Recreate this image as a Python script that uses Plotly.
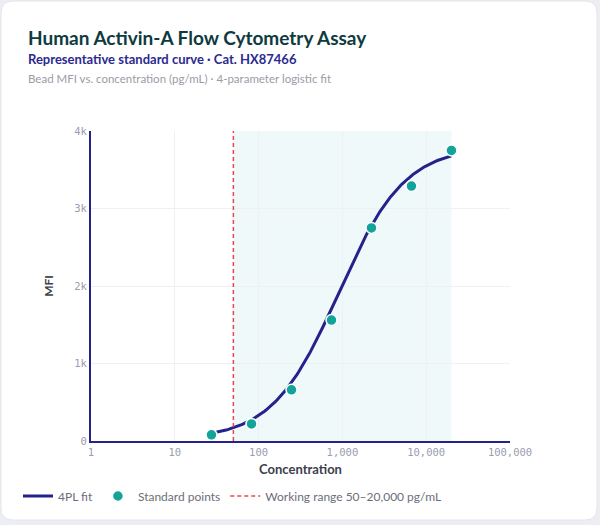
import numpy as np
import plotly.graph_objects as go

# ---- data ----
std_conc = [27.4, 82.3, 247, 741, 2222, 6667, 20000]
std_mfi = [80, 220, 660, 1560, 2750, 3290, 3750]

# 4PL fit parameters: bottom, top, EC50, hill slope
fit_bottom = 20
fit_top = 3800
fit_ec50 = 900
fit_hill = 1.1

working_low = 50
working_high = 20000

x_tickvals = [1, 10, 100, 1000, 10000, 100000]
x_ticktext = ["1", "10", "100", "1,000", "10,000", "100,000"]
y_tickvals = [0, 1000, 2000, 3000, 4000]
y_ticktext = ["0", "1k", "2k", "3k", "4k"]

fit_x = np.logspace(np.log10(std_conc[0]), np.log10(std_conc[-1]), 200)
fit_y = fit_top + (fit_bottom - fit_top) / (1 + (fit_x / fit_ec50) ** fit_hill)

# ---- layout geometry ----
W, H = 600, 525
L, R, T, B = 91, 90, 131, 84
PW, PH = W - L - R, H - T - B

def px(xp):
    return (xp - L) / PW

def py(yp):
    return (H - B - yp) / PH

NAVY = "#24238c"
TEAL = "#12a39b"
RED = "#ef4450"

fig = go.Figure()

fig.add_trace(go.Scatter(
    x=fit_x, y=fit_y, mode="lines", name="4PL fit",
    line=dict(color=NAVY, width=3), hoverinfo="skip"))
fig.add_trace(go.Scatter(
    x=std_conc, y=std_mfi, mode="markers", name="Standard points",
    marker=dict(color=TEAL, size=11, line=dict(color="white", width=1.5))))
fig.add_trace(go.Scatter(
    x=[working_low, working_low], y=[0, 4000], mode="lines",
    name="Working range 50–20,000 pg/mL",
    line=dict(color=RED, width=1.5, dash="4px,3px"), hoverinfo="skip"))

# card background with rounded corners (paper coords)
x0, x1 = px(1), px(597)
y0, y1 = py(520), py(1)
rx, ry = 12 / PW, 12 / PH
card = (f"M {x0+rx},{y1} L {x1-rx},{y1} Q {x1},{y1} {x1},{y1-ry} "
        f"L {x1},{y0+ry} Q {x1},{y0} {x1-rx},{y0} "
        f"L {x0+rx},{y0} Q {x0},{y0} {x0},{y0+ry} "
        f"L {x0},{y1-ry} Q {x0},{y1} {x0+rx},{y1} Z")

shapes = [
    dict(type="path", path=card, xref="paper", yref="paper",
         fillcolor="white", line=dict(color="#e4e6ec", width=1), layer="below"),
    dict(type="rect", xref="x", yref="y",
         x0=working_low, x1=working_high, y0=0, y1=4000,
         fillcolor="rgba(0,160,170,0.06)", line=dict(width=0), layer="below"),
]

annotations = [
    dict(text="<b>Human Activin-A Flow Cytometry Assay</b>", xref="paper", yref="paper",
         x=px(26), y=py(37), xanchor="left", yanchor="middle", showarrow=False,
         font=dict(family="Lato", size=19, color="#0e3a40")),
    dict(text="<b>Representative standard curve · Cat. HX87466</b>", xref="paper", yref="paper",
         x=px(26), y=py(59), xanchor="left", yanchor="middle", showarrow=False,
         font=dict(family="Lato", size=13, color="#2b2a8f")),
    dict(text="Bead MFI vs. concentration (pg/mL) · 4-parameter logistic fit", xref="paper", yref="paper",
         x=px(26), y=py(78), xanchor="left", yanchor="middle", showarrow=False,
         font=dict(family="Lato", size=11.5, color="#9a9ca6")),
]

fig.update_layout(
    width=W, height=H,
    margin=dict(l=L, r=R, t=T, b=B),
    paper_bgcolor="#eceef3",
    plot_bgcolor="rgba(0,0,0,0)",
    shapes=shapes,
    annotations=annotations,
    showlegend=True,
    legend=dict(orientation="h", x=px(18), y=py(496), xanchor="left", yanchor="middle",
                font=dict(family="Lato", size=12, color="#6b6e7a"),
                bgcolor="rgba(0,0,0,0)", itemwidth=30),
    xaxis=dict(type="log", range=[0, 5], tickvals=x_tickvals, ticktext=x_ticktext,
               showline=True, linecolor=NAVY, linewidth=2, showgrid=True,
               gridcolor="#eef0f5", gridwidth=1, zeroline=False,
               tickfont=dict(family="DejaVu Sans Mono", size=10.5, color="#9a9cb0"),
               title=dict(text="<b>Concentration</b>", standoff=8,
                          font=dict(family="Lato", size=13, color="#3b3f4a"))),
    yaxis=dict(range=[0, 4000], tickvals=y_tickvals, ticktext=y_ticktext,
               showline=True, linecolor=NAVY, linewidth=2, showgrid=True,
               gridcolor="#eef0f5", gridwidth=1, zeroline=False,
               tickfont=dict(family="DejaVu Sans Mono", size=10.5, color="#9a9cb0"),
               title=dict(text="<b>MFI</b>", standoff=18,
                          font=dict(family="Lato", size=12, color="#3b3f4a"))),
)

fig.write_html("out.html", config={"displayModeBar": False},
               post_script="document.body.style.margin='0';")
